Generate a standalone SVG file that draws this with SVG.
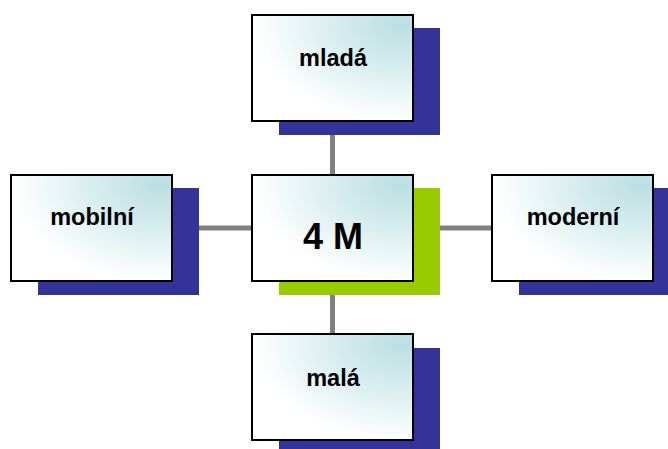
<svg xmlns="http://www.w3.org/2000/svg" width="668" height="449" viewBox="0 0 668 449">
<defs>
<radialGradient id="fill" cx="0.92" cy="0.1" r="1" gradientUnits="objectBoundingBox">
<stop offset="0" stop-color="#bcdfe2"/>
<stop offset="0.35" stop-color="#d3ebed"/>
<stop offset="0.9" stop-color="#ffffff"/>
</radialGradient>
</defs>
<style>
.box{fill:url(#fill);stroke:#000;stroke-width:2}
.sh{fill:#333399}
.shg{fill:#99cc00}
.lbl{font-family:"Liberation Sans",Arial,sans-serif;font-weight:bold;font-size:23.5px;fill:#000;text-anchor:middle}
.big{font-size:36px}
.conn{stroke:#808080;stroke-width:5;fill:none}
</style>
<rect width="668" height="449" fill="#fff"/>
<g id="connectors">
<line class="conn" x1="172" y1="228" x2="492" y2="228"/>
<line class="conn" x1="332.5" y1="121" x2="332.5" y2="334"/>
</g>
<g id="node-mlada">
<rect class="sh" x="279" y="28" width="161" height="107"/>
<rect class="box" x="252" y="15" width="161" height="106"/>
<text class="lbl" x="333" y="66">mladá</text>
</g>
<g id="node-mobilni">
<rect class="sh" x="38" y="188" width="161" height="107"/>
<rect class="box" x="11" y="175" width="161" height="106"/>
<text class="lbl" x="92" y="225">mobilní</text>
</g>
<g id="node-4m">
<rect class="shg" x="279" y="188" width="161" height="107"/>
<rect class="box" x="252" y="175" width="161" height="106"/>
<text class="lbl big" x="333" y="249">4 M</text>
</g>
<g id="node-moderni">
<rect class="sh" x="519" y="188" width="161" height="107"/>
<rect class="box" x="492" y="175" width="161" height="106"/>
<text class="lbl" x="573" y="225">moderní</text>
</g>
<g id="node-mala">
<rect class="sh" x="279" y="348" width="161" height="107"/>
<rect class="box" x="252" y="334" width="161" height="106"/>
<text class="lbl" x="333" y="386">malá</text>
</g>
</svg>
